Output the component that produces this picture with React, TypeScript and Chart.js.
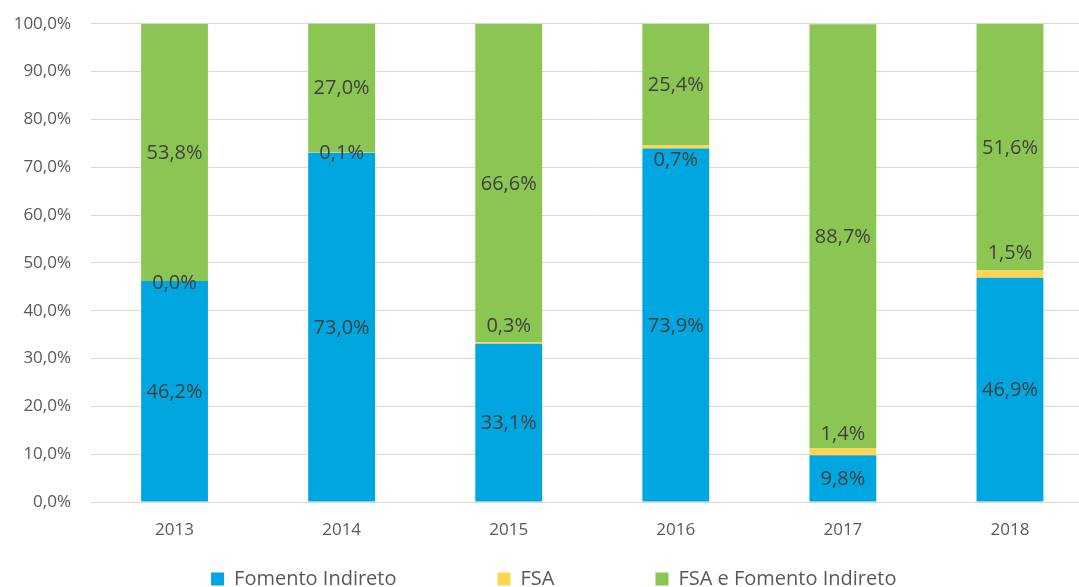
import React, { useEffect, useRef } from "react";
import { Chart, registerables } from "chart.js";

Chart.register(...registerables);

// ---- data ----
const years = ["2013", "2014", "2015", "2016", "2017", "2018"];
const fomentoIndireto = [46.2, 73.0, 33.1, 73.9, 9.8, 46.9];
const fsa = [0.0, 0.1, 0.3, 0.7, 1.4, 1.5];
const fsaEFomentoIndireto = [53.8, 27.0, 66.6, 25.4, 88.7, 51.6];

// manual label nudges (px) for the thin FSA segments, as in the original
const fsaLabelShift = [1, 0, -18, 12, -18, -22];

const FONT = "'Open Sans', 'Noto Sans', sans-serif";
const W = 1106;
const H = 700;
const LEGEND_PAD = 101;
const LEGEND_FONT = 20;
const LEGEND_ROW_TOP = 569;
const LEGEND_DX = 7;
const PLOT_BOTTOM = 502;

const fmt = (v: number) => v.toFixed(1).replace(".", ",") + "%";

const dataLabels = {
  id: "dataLabels",
  afterDatasetsDraw(chart: any) {
    const ctx = chart.ctx;
    ctx.save();
    ctx.font = `20px ${FONT}`;
    ctx.fillStyle = "#404040";
    ctx.textAlign = "center";
    ctx.textBaseline = "middle";
    chart.data.datasets.forEach((ds: any, i: number) => {
      const meta = chart.getDatasetMeta(i);
      meta.data.forEach((bar: any, j: number) => {
        const v = ds.data[j] as number;
        const shift = ds.labelShift ? ds.labelShift[j] : 0;
        const y = (bar.y + bar.base) / 2 + shift + 1;
        ctx.fillText(fmt(v), bar.x, y);
      });
    });
    ctx.restore();
  },
};

const legendPlace = {
  id: "legendPlace",
  afterLayout(chart: any) {
    const lg = chart.legend;
    if (!lg) return;
    const target = LEGEND_ROW_TOP - LEGEND_PAD;
    const dy = target - lg.top;
    lg.top += dy;
    lg.bottom += dy;
    lg.left += LEGEND_DX;
    lg.right += LEGEND_DX;
  },
};

export default function App() {
  const ref = useRef<HTMLCanvasElement | null>(null);

  useEffect(() => {
    document.body.style.overflow = "hidden";
    const canvas = ref.current!;
    const chart = new Chart(canvas, {
      type: "bar",
      data: {
        labels: years,
        datasets: [
          {
            label: "Fomento Indireto",
            data: fomentoIndireto,
            backgroundColor: "#00A6DF",
            borderWidth: 0,
          },
          {
            label: "FSA",
            data: fsa,
            backgroundColor: "#FFD54F",
            borderWidth: 0,
            labelShift: fsaLabelShift,
          } as any,
          {
            label: "FSA e Fomento Indireto",
            data: fsaEFomentoIndireto,
            backgroundColor: "#8BC653",
            borderWidth: 0,
          },
        ],
      },
      options: {
        responsive: false,
        animation: false,
        devicePixelRatio: 1,
        datasets: { bar: { categoryPercentage: 1, barPercentage: 0.4 } },
        layout: { padding: { top: 0, right: 12.5, left: 0, bottom: 0 } },
        plugins: {
          tooltip: { enabled: false },
          title: { display: false },
          legend: {
            position: "bottom",
            labels: {
              boxWidth: 13,
              boxHeight: 13,
              padding: LEGEND_PAD,
              color: "#595959",
              font: { family: FONT, size: LEGEND_FONT },
            },
          },
        },
        scales: {
          x: {
            stacked: true,
            grid: { display: false, drawTicks: false },
            border: { display: false },
            ticks: {
              color: "#595959",
              font: { family: FONT, size: 17 },
              padding: 18,
            },
            afterFit: (s: any) => {
              s.height = H - (LEGEND_FONT + LEGEND_PAD + 10) - PLOT_BOTTOM;
            },
          },
          y: {
            stacked: true,
            min: 0,
            max: 100,
            ticks: {
              stepSize: 10,
              color: "#595959",
              font: { family: FONT, size: 17 },
              padding: 13.5,
              callback: (v: any) => fmt(Number(v)),
            },
            grid: {
              color: "#D9D9D9",
              lineWidth: 1,
              drawTicks: true,
              tickLength: 6.5,
              tickColor: "rgba(0,0,0,0)",
            },
            border: { display: false },
            afterFit: (s: any) => {
              s.width = 91;
            },
          },
        },
      },
      plugins: [dataLabels, legendPlace],
    });
    return () => chart.destroy();
  }, []);

  return (
    <div style={{ position: "fixed", left: 0, top: 0, width: W, height: H }}>
      <canvas ref={ref} width={W} height={H} style={{ width: W, height: H, display: "block" }} />
    </div>
  );
}
